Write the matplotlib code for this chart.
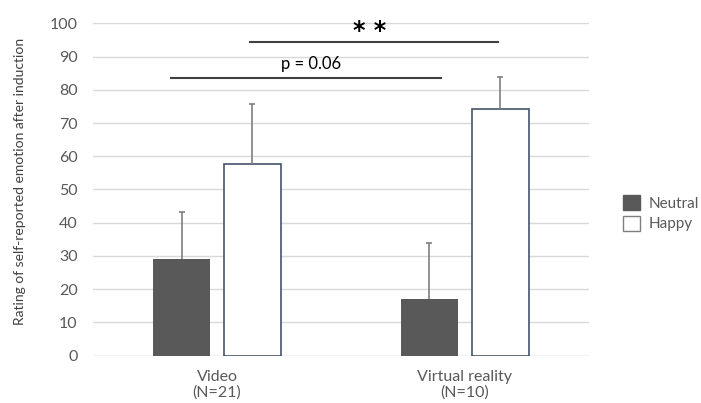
import numpy as np
import matplotlib.pyplot as plt
from matplotlib.patches import Patch

plt.rcParams['font.family'] = ['Lato', 'DejaVu Sans']

groups = ['Video\n(N=21)', 'Virtual reality\n(N=10)']
neutral = [29.1, 17.0]
neutral_err = [14.2, 17.0]
happy = [57.6, 74.3]
happy_err = [18.1, 9.6]

fig = plt.figure(figsize=(7.01, 4.03), dpi=100)
ax = fig.add_axes([0.1327, 0.1174, 0.7073, 0.8248])

x = np.arange(len(groups))
w = 0.23
gap = 0.056
xn = x - (w + gap) / 2
xh = x + (w + gap) / 2
ax.bar(xn, neutral, w, color='#595959', zorder=3)
ax.bar(xh, happy, w, color='white', edgecolor='#44546a', linewidth=1.2, zorder=3)

# upper-only error bars
cap = 0.012
for xs, vals, errs in [(xn, neutral, neutral_err), (xh, happy, happy_err)]:
    for xi, v, e in zip(xs, vals, errs):
        ax.vlines(xi, v, v + e, color='#7f7f7f', linewidth=1.2, zorder=4)
        ax.hlines(v + e, xi - cap, xi + cap, color='#7f7f7f', linewidth=1.2, zorder=4)

ax.set_xlim(-0.5, 1.5)
ax.set_ylim(0, 100)
ax.set_yticks(range(0, 101, 10))
ax.yaxis.grid(True, color='#d9d9d9', linewidth=1, zorder=0)
ax.set_axisbelow(True)
for s in ax.spines.values():
    s.set_visible(False)
ax.axhline(0, color='#d9d9d9', linewidth=1, zorder=1)
ax.tick_params(length=0, labelsize=11.5, labelcolor='#595959')
ax.tick_params(axis='y', pad=11)
ax.tick_params(axis='x', pad=10)
ax.set_xticks(x)
ax.set_xticklabels(groups)
ax.set_ylabel('Rating of self-reported emotion after induction', fontsize=10,
              color='#404040')
ax.yaxis.set_label_coords(-0.135, 0.525)

# significance bars
ax.plot([-0.185, 0.903], [83.5, 83.5], color='#404040', linewidth=1.5, clip_on=False)
ax.text(0.38, 85.3, 'p = 0.06', ha='center', va='bottom', fontsize=12, color='black')
ax.plot([0.133, 1.133], [94.4, 94.4], color='#404040', linewidth=1.5, clip_on=False)
ax.text(0.617, 97.6, '* *', ha='center', va='center', fontsize=17, fontweight='bold',
        color='black', family='DejaVu Sans')

handles = [Patch(facecolor='#595959', edgecolor='#595959'),
           Patch(facecolor='white', edgecolor='#7f7f7f')]
fig.legend(handles, ['Neutral', 'Happy'], loc='center left', bbox_to_anchor=(0.869, 0.471),
           frameon=False, fontsize=11, handlelength=1.1, handleheight=1.1,
           handletextpad=0.6, labelspacing=0.35, labelcolor='#595959')

fig.savefig('out.png', dpi=100)
